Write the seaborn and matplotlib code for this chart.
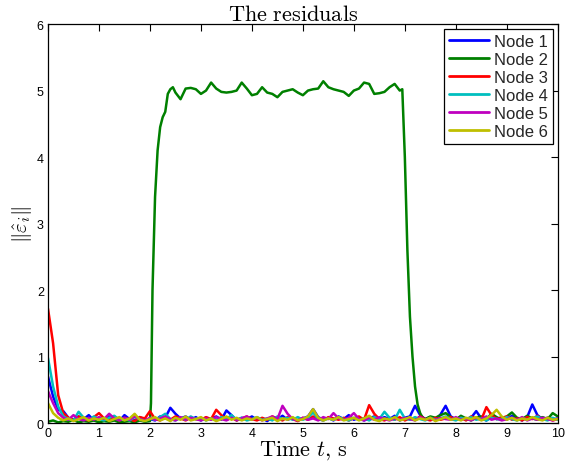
import numpy as np
import pandas as pd
import seaborn as sns
import matplotlib
matplotlib.use("Agg")
import matplotlib.pyplot as plt

# time grid (0.1 s) shared by nodes 1, 3, 4, 5, 6
t = np.round(np.arange(0, 10.01, 0.1), 2)

node1 = [0.70, 0.40, 0.20, 0.18, 0.08, 0.05, 0.10, 0.06, 0.12, 0.04,
         0.08, 0.05, 0.10, 0.07, 0.03, 0.12, 0.06, 0.04, 0.09, 0.05,
         0.06, 0.04, 0.10, 0.08, 0.23, 0.14, 0.07, 0.10, 0.05, 0.09,
         0.04, 0.08, 0.06, 0.10, 0.05, 0.19, 0.12, 0.04, 0.08, 0.06,
         0.10, 0.05, 0.07, 0.03, 0.09, 0.06, 0.11, 0.05, 0.08, 0.04,
         0.07, 0.10, 0.21, 0.09, 0.05, 0.08, 0.04, 0.10, 0.06, 0.12,
         0.05, 0.08, 0.04, 0.07, 0.10, 0.05, 0.09, 0.06, 0.11, 0.04,
         0.08, 0.10, 0.26, 0.12, 0.06, 0.09, 0.05, 0.13, 0.26, 0.10,
         0.06, 0.09, 0.05, 0.08, 0.18, 0.07, 0.04, 0.10, 0.06, 0.09,
         0.05, 0.11, 0.07, 0.04, 0.09, 0.28, 0.12, 0.06, 0.08, 0.05,
         0.07]

# node 2 has its own time points (finer around the fault on/off)
t2 = ([round(0.1 * k, 2) for k in range(21)]
      + [2.02, 2.05, 2.1, 2.15, 2.2, 2.25, 2.3, 2.35, 2.4, 2.45]
      + [round(2.5 + 0.1 * k, 2) for k in range(45)]
      + [6.95, 7.0, 7.05, 7.1, 7.15, 7.2, 7.25, 7.3, 7.35]
      + [round(7.4 + 0.1 * k, 2) for k in range(27)])
node2 = ([0.02, 0.04, 0.01, 0.03, 0.02, 0.05, 0.01, 0.03, 0.02, 0.04,
          0.01, 0.03, 0.02, 0.04, 0.01, 0.02, 0.03, 0.01, 0.04, 0.02,
          0.03]
         + [0.3, 2.0, 3.4, 4.1, 4.45, 4.6, 4.68, 4.95, 5.02, 5.05]
         + [4.97, 4.87, 5.03, 5.04, 5.02, 4.95, 5.00, 5.12, 5.03, 4.98,
            4.97, 4.98, 5.00, 5.12, 5.03, 4.93, 4.95, 5.05, 4.97, 4.95,
            4.90, 4.98, 5.00, 5.02, 4.97, 4.93, 5.00, 5.02, 5.03, 5.14,
            5.05, 5.02, 5.00, 4.98, 4.92, 5.00, 5.03, 5.12, 5.10, 4.95,
            4.96, 4.98, 5.05, 5.10, 5.00]
         + [5.02, 4.0, 2.6, 1.6, 1.0, 0.55, 0.28, 0.15, 0.08]
         + [0.06, 0.10, 0.08, 0.12, 0.15, 0.09, 0.05, 0.11, 0.07, 0.04,
            0.08, 0.10, 0.06, 0.14, 0.09, 0.05, 0.10, 0.16, 0.08, 0.06,
            0.11, 0.07, 0.05, 0.09, 0.06, 0.15, 0.10])

node3 = [1.72, 1.20, 0.42, 0.15, 0.08, 0.05, 0.10, 0.06, 0.04, 0.09,
         0.15, 0.07, 0.05, 0.10, 0.04, 0.08, 0.06, 0.03, 0.09, 0.07,
         0.18, 0.06, 0.04, 0.09, 0.05, 0.10, 0.07, 0.04, 0.08, 0.06,
         0.05, 0.09, 0.06, 0.20, 0.12, 0.05, 0.08, 0.04, 0.07, 0.10,
         0.06, 0.04, 0.08, 0.05, 0.10, 0.07, 0.04, 0.09, 0.06, 0.03,
         0.08, 0.05, 0.10, 0.06, 0.04, 0.09, 0.07, 0.05, 0.08, 0.04,
         0.07, 0.10, 0.05, 0.27, 0.14, 0.06, 0.04, 0.08, 0.05, 0.09,
         0.04, 0.07, 0.05, 0.10, 0.06, 0.04, 0.08, 0.05, 0.07, 0.09,
         0.05, 0.08, 0.04, 0.10, 0.07, 0.05, 0.24, 0.12, 0.06, 0.08,
         0.10, 0.05, 0.07, 0.04, 0.09, 0.06, 0.11, 0.05, 0.08, 0.04,
         0.06]

node4 = [0.98, 0.55, 0.25, 0.10, 0.06, 0.04, 0.17, 0.08, 0.05, 0.10,
         0.06, 0.04, 0.08, 0.11, 0.05, 0.07, 0.04, 0.09, 0.06, 0.03,
         0.07, 0.05, 0.09, 0.14, 0.06, 0.04, 0.08, 0.05, 0.10, 0.06,
         0.08, 0.04, 0.07, 0.05, 0.09, 0.06, 0.12, 0.05, 0.08, 0.04,
         0.06, 0.09, 0.05, 0.07, 0.04, 0.10, 0.06, 0.08, 0.05, 0.09,
         0.05, 0.08, 0.16, 0.06, 0.04, 0.07, 0.05, 0.09, 0.06, 0.04,
         0.08, 0.05, 0.07, 0.04, 0.09, 0.06, 0.17, 0.08, 0.05, 0.20,
         0.07, 0.05, 0.09, 0.06, 0.04, 0.08, 0.05, 0.07, 0.10, 0.06,
         0.04, 0.08, 0.06, 0.09, 0.05, 0.07, 0.04, 0.08, 0.06, 0.05,
         0.09, 0.06, 0.04, 0.08, 0.05, 0.07, 0.10, 0.06, 0.04, 0.08,
         0.05]

node5 = [0.48, 0.30, 0.15, 0.08, 0.05, 0.12, 0.06, 0.04, 0.08, 0.05,
         0.09, 0.06, 0.14, 0.07, 0.04, 0.08, 0.05, 0.10, 0.06, 0.04,
         0.08, 0.05, 0.07, 0.10, 0.06, 0.04, 0.09, 0.05, 0.08, 0.06,
         0.04, 0.07, 0.05, 0.09, 0.06, 0.04, 0.08, 0.05, 0.07, 0.10,
         0.05, 0.08, 0.04, 0.07, 0.10, 0.06, 0.26, 0.14, 0.06, 0.04,
         0.08, 0.05, 0.07, 0.04, 0.09, 0.06, 0.15, 0.07, 0.05, 0.08,
         0.15, 0.06, 0.04, 0.08, 0.05, 0.09, 0.06, 0.04, 0.07, 0.05,
         0.08, 0.06, 0.04, 0.09, 0.05, 0.07, 0.04, 0.08, 0.06, 0.05,
         0.09, 0.05, 0.07, 0.04, 0.08, 0.06, 0.10, 0.05, 0.07, 0.04,
         0.06, 0.08, 0.05, 0.09, 0.04, 0.07, 0.05, 0.08, 0.06, 0.04,
         0.07]

node6 = [0.30, 0.15, 0.08, 0.04, 0.07, 0.03, 0.06, 0.09, 0.04, 0.07,
         0.05, 0.08, 0.03, 0.06, 0.09, 0.04, 0.07, 0.14, 0.05, 0.03,
         0.06, 0.09, 0.04, 0.07, 0.03, 0.08, 0.05, 0.10, 0.04, 0.06,
         0.09, 0.04, 0.07, 0.03, 0.06, 0.10, 0.05, 0.08, 0.04, 0.07,
         0.05, 0.09, 0.04, 0.06, 0.08, 0.03, 0.07, 0.05, 0.09, 0.04,
         0.06, 0.10, 0.21, 0.08, 0.04, 0.07, 0.05, 0.09, 0.04, 0.06,
         0.08, 0.04, 0.07, 0.11, 0.05, 0.03, 0.07, 0.05, 0.09, 0.04,
         0.06, 0.09, 0.04, 0.07, 0.05, 0.08, 0.03, 0.06, 0.09, 0.05,
         0.07, 0.04, 0.08, 0.06, 0.09, 0.04, 0.07, 0.12, 0.20, 0.10,
         0.05, 0.08, 0.04, 0.07, 0.05, 0.09, 0.06, 0.04, 0.08, 0.05,
         0.06]

labels = ["Node 1", "Node 2", "Node 3", "Node 4", "Node 5", "Node 6"]
colors = ["#0000FF", "#008000", "#FF0000", "#00BFBF", "#BF00BF", "#BFBF00"]

# long table for seaborn
frames = []
for name, tt, vals in zip(labels, [t, t2, t, t, t, t],
                          [node1, node2, node3, node4, node5, node6]):
    frames.append(pd.DataFrame({"t": tt, "r": vals, "node": name}))
df = pd.concat(frames, ignore_index=True)

sns.set_style("white")
plt.rcParams["font.family"] = ["Liberation Sans", "DejaVu Sans"]
plt.rcParams["mathtext.fontset"] = "cm"

fig = plt.figure(figsize=(5.68, 4.64), dpi=100)
ax = fig.add_axes([0.0845, 0.086, 0.8975, 0.86])

sns.lineplot(data=df, x="t", y="r", hue="node", hue_order=labels,
             palette=colors, estimator=None, sort=False, linewidth=1.8,
             ax=ax)

ax.set_xlim(0, 10)
ax.set_ylim(0, 6)
ax.set_xticks(range(0, 11))
ax.set_yticks(range(0, 7))
ax.tick_params(direction="in", length=5, width=0.8, top=True, right=True,
               labelsize=9, colors="black", pad=3)
for s in ax.spines.values():
    s.set_color("black")
    s.set_linewidth(0.9)

ax.set_title(r"$\mathrm{The\ residuals}$", fontsize=16, pad=3, x=0.48,
             color="black")
ax.set_xlabel(r"$\mathrm{Time}\ t,\,\mathrm{s}$", fontsize=16, labelpad=-1,
              color="black")
ax.set_ylabel(r"$\|\hat{\varepsilon}_i\|$", fontsize=15, labelpad=2,
              color="black")

leg = ax.legend(loc="upper right", fontsize=12, frameon=True,
                fancybox=False, edgecolor="black", framealpha=1,
                borderpad=0.3, labelspacing=0.18, handlelength=2.4,
                handletextpad=0.3, borderaxespad=0.3)
leg.get_frame().set_linewidth(0.9)
for line in leg.get_lines():
    line.set_linewidth(2.0)

fig.savefig("out.png", dpi=100, facecolor="white")
